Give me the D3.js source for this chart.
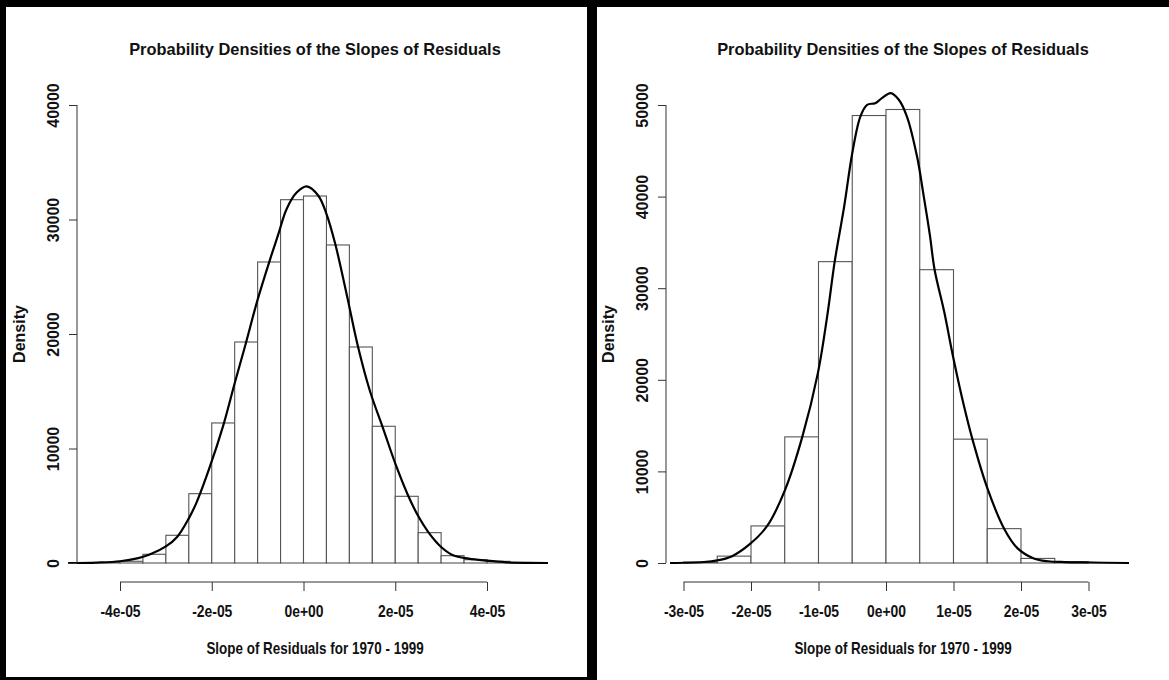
<!DOCTYPE html>
<html>
<head>
<meta charset="utf-8">
<script src="https://cdn.jsdelivr.net/npm/d3@7/dist/d3.min.js"></script>
<style>
  html, body { margin: 0; padding: 0; background: #ffffff; }
  svg { display: block; }
  text { font-family: "Liberation Sans", Arial, Helvetica, sans-serif; font-weight: bold; fill: #111; }
</style>
</head>
<body>
<svg id="chart" width="1169" height="680"></svg>
<script>
// ---------------- DATA ----------------
const titleText = "Probability Densities of the Slopes of Residuals";
const xTitleText = "Slope of Residuals for 1970 - 1999";
const yTitleText = "Density";

// Left panel histogram (bin edges and densities)
const leftBreaks = [-4.5e-5, -4.0e-5, -3.5e-5, -3.0e-5, -2.5e-5, -2.0e-5, -1.5e-5, -1.0e-5, -0.5e-5, 0,
                    0.5e-5, 1.0e-5, 1.5e-5, 2.0e-5, 2.5e-5, 3.0e-5, 3.5e-5, 4.0e-5, 4.5e-5, 5.0e-5];
const leftDensity = [30, 150, 760, 2420, 6055, 12230, 19300, 26290, 31730, 32050,
                     27775, 18865, 11940, 5825, 2650, 640, 290, 145, 40];
// Left kernel density curve
const leftCurveX = [-5.13e-5, -4.5e-5, -4.0e-5, -3.6e-5, -3.34e-5, -3.0e-5, -2.75e-5, -2.5e-5, -2.33e-5, -2.05e-5,
                    -1.75e-5, -1.5e-5, -1.27e-5, -1.0e-5, -0.73e-5, -0.55e-5, -0.37e-5, -0.15e-5, 0.07e-5, 0.32e-5,
                    0.5e-5, 0.69e-5, 0.95e-5, 1.19e-5, 1.45e-5, 1.74e-5, 2.0e-5, 2.28e-5, 2.5e-5, 2.72e-5,
                    3.0e-5, 3.26e-5, 3.6e-5, 4.0e-5, 4.43e-5, 4.9e-5, 5.33e-5];
const leftCurveY = [0, 40, 150, 430, 760, 1450, 2300, 3900, 5300, 8300,
                    12000, 15700, 19000, 23000, 26500, 28700, 30900, 32350, 32900, 32100,
                    30500, 27900, 23300, 18865, 15000, 11700, 8700, 5900, 4100, 2700,
                    1400, 680, 380, 200, 60, 10, 0];
const leftXTicks = [-4e-5, -2e-5, 0, 2e-5, 4e-5];
const leftXLabels = ["-4e-05", "-2e-05", "0e+00", "2e-05", "4e-05"];
const leftYTicks = [0, 10000, 20000, 30000, 40000];
const leftYLabels = ["0", "10000", "20000", "30000", "40000"];

// Right panel histogram
const rightBreaks = [-3.0e-5, -2.5e-5, -2.0e-5, -1.5e-5, -1.0e-5, -0.5e-5, 0,
                     0.5e-5, 1.0e-5, 1.5e-5, 2.0e-5, 2.5e-5, 3.0e-5];
const rightDensity = [100, 750, 4045, 13770, 32900, 48850, 49510, 32020, 13520, 3750, 500, 150];
// Right kernel density curve
const rightCurveX = [-3.2e-5, -2.70e-5, -2.50e-5, -2.28e-5, -2.01e-5, -1.76e-5, -1.50e-5, -1.24e-5, -1.01e-5, -0.87e-5,
                     -0.76e-5, -0.62e-5, -0.50e-5, -0.38e-5, -0.28e-5, -0.16e-5, -0.06e-5, 0.07e-5, 0.19e-5, 0.31e-5,
                     0.46e-5, 0.56e-5, 0.65e-5, 0.72e-5, 0.86e-5, 1.00e-5, 1.15e-5, 1.28e-5, 1.50e-5, 1.75e-5,
                     1.95e-5, 2.19e-5, 2.40e-5, 2.65e-5, 2.90e-5, 3.6e-5];
const rightCurveY = [0, 110, 290, 750, 2110, 4045, 7900, 13770, 20700, 27000,
                     32900, 38900, 44740, 48740, 50020, 50200, 50750, 51300, 50570, 48740,
                     44370, 40000, 35800, 32020, 27500, 22300, 17300, 13520, 8200, 3750,
                     1600, 500, 190, 100, 60, 0];
const rightXTicks = [-3e-5, -2e-5, -1e-5, 0, 1e-5, 2e-5, 3e-5];
const rightXLabels = ["-3e-05", "-2e-05", "-1e-05", "0e+00", "1e-05", "2e-05", "3e-05"];
const rightYTicks = [0, 10000, 20000, 30000, 40000, 50000];
const rightYLabels = ["0", "10000", "20000", "30000", "40000", "50000"];

// ---------------- DRAW ----------------
const svg = d3.select("#chart");

function panel(cfg) {
  const g = svg.append("g");
  const x = d3.scaleLinear().domain(cfg.xDomain).range(cfg.xRange);
  const y = d3.scaleLinear().domain(cfg.yDomain).range(cfg.yRange);

  // histogram bars
  const bins = cfg.density.map((d, i) => ({ x0: cfg.breaks[i], x1: cfg.breaks[i + 1], d }));
  g.append("g").selectAll("rect").data(bins).join("rect")
    .attr("x", b => x(b.x0))
    .attr("width", b => x(b.x1) - x(b.x0))
    .attr("y", b => y(b.d))
    .attr("height", b => y(0) - y(b.d))
    .attr("fill", "#ffffff")
    .attr("stroke", "#555")
    .attr("stroke-width", 1.1);

  // density curve
  const pts = cfg.curveX.map((v, i) => [v, cfg.curveY[i]]);
  g.append("path")
    .datum(pts)
    .attr("fill", "none")
    .attr("stroke", "#000")
    .attr("stroke-width", 2.2)
    .attr("stroke-linejoin", "round")
    .attr("d", d3.line().x(p => x(p[0])).y(p => y(p[1])).curve(d3.curveCatmullRom.alpha(0.5)));

  // x axis
  const xa = g.append("g")
    .attr("transform", `translate(0,${cfg.xAxisY})`)
    .call(d3.axisBottom(x).tickValues(cfg.xTicks).tickSize(9).tickSizeOuter(0)
      .tickFormat((d, i) => cfg.xLabels[i]));
  xa.select(".domain").attr("stroke", "#333").attr("d", `M${x(cfg.xTicks[0])},0H${x(cfg.xTicks[cfg.xTicks.length - 1])}`);
  xa.selectAll(".tick line").attr("stroke", "#333");
  xa.selectAll("text")
    .style("font-size", "15.8px").attr("fill", "#111")
    .attr("y", 35).attr("dy", 0)
    .attr("transform", "scale(0.88,1)");

  // y axis
  const ya = g.append("g")
    .attr("transform", `translate(${cfg.yAxisX},0)`)
    .call(d3.axisLeft(y).tickValues(cfg.yTicks).tickSize(8).tickSizeOuter(0)
      .tickFormat((d, i) => cfg.yLabels[i]));
  ya.select(".domain").attr("stroke", "#333").attr("d", `M0,${y(cfg.yTicks[0])}V${y(cfg.yTicks[cfg.yTicks.length - 1])}`);
  ya.selectAll(".tick line").attr("stroke", "#333");
  ya.selectAll("text")
    .style("font-size", "16px").attr("fill", "#111")
    .attr("transform", "rotate(-90)")
    .attr("x", 0).attr("y", -18.5).attr("dy", 0)
    .attr("text-anchor", "middle");

  // titles
  g.append("text").attr("x", cfg.center).attr("y", 55).attr("text-anchor", "middle")
    .style("font-size", "16.4px").text(titleText);
  g.append("text").attr("transform", `translate(${cfg.center},654) scale(0.84,1)`)
    .attr("text-anchor", "middle").style("font-size", "16px").text(xTitleText);
  g.append("text").attr("transform", `translate(${cfg.yTitleX},${(cfg.yRange[0] + cfg.yRange[1]) / 2}) rotate(-90)`)
    .attr("text-anchor", "middle").style("font-size", "16px").text(yTitleText);
}

panel({
  breaks: leftBreaks, density: leftDensity, curveX: leftCurveX, curveY: leftCurveY,
  xDomain: [-4e-5, 4e-5], xRange: [120, 487], yDomain: [0, 40000], yRange: [563, 105],
  xTicks: leftXTicks, xLabels: leftXLabels, yTicks: leftYTicks, yLabels: leftYLabels,
  xAxisY: 582, yAxisX: 77, center: 315, yTitleX: 25
});

panel({
  breaks: rightBreaks, density: rightDensity, curveX: rightCurveX, curveY: rightCurveY,
  xDomain: [-3e-5, 3e-5], xRange: [683.5, 1088.5], yDomain: [0, 50000], yRange: [563, 105],
  xTicks: rightXTicks, xLabels: rightXLabels, yTicks: rightYTicks, yLabels: rightYLabels,
  xAxisY: 582, yAxisX: 666, center: 903, yTitleX: 614
});

// frame borders
const frame = svg.append("g").attr("fill", "#000");
frame.append("rect").attr("x", 0).attr("y", 0).attr("width", 1169).attr("height", 7);
frame.append("rect").attr("x", 0).attr("y", 0).attr("width", 6).attr("height", 680);
frame.append("rect").attr("x", 587).attr("y", 0).attr("width", 10).attr("height", 680);
frame.append("rect").attr("x", 0).attr("y", 677).attr("width", 597).attr("height", 3);
</script>
</body>
</html>
